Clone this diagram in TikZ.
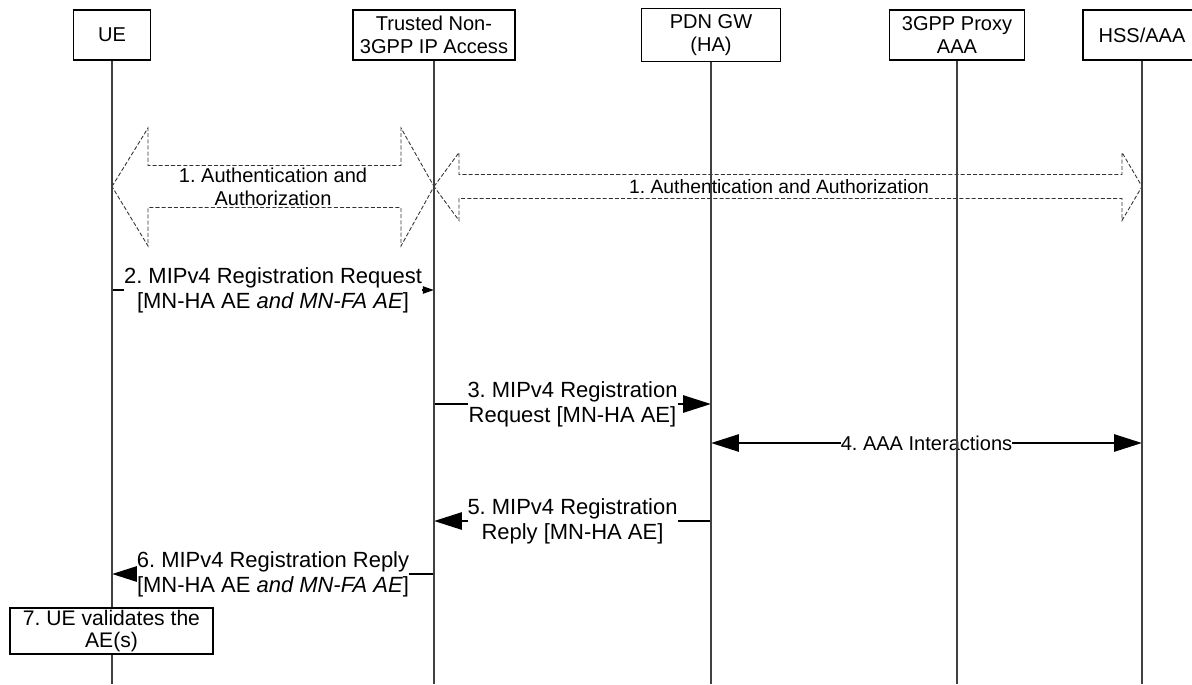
\documentclass[tikz,border=0pt]{standalone}
\usepackage{fontspec}
\setmainfont{Liberation Sans}
\frenchspacing
\usetikzlibrary{arrows.meta}
\begin{document}
\begin{tikzpicture}[
        header/.style={draw,minimum height=1.00cm,align=center,line width=0.6pt,font=\fontsize{11.4}{13.1}\selectfont},
        lifeline/.style={black!75,line width=0.6pt},
        authbox/.style={draw=black!80,line width=0.5pt,dash pattern=on 2.3pt off 1.2pt},
        authlabel/.style={align=center,font=\fontsize{11.4}{13.1}\selectfont},
        msglabel/.style={fill=white,inner sep=0pt,align=center,font=\fontsize{12.5}{14.2}\selectfont},
        msg/.style={line width=1.5pt,-{Triangle[length=15.9pt,width=9.7pt]}},
        msgboth/.style={line width=1.5pt,{Triangle[length=15.9pt,width=9.7pt]}-{Triangle[length=15.9pt,width=9.7pt]}},
        thinmsg/.style={line width=1.1pt,-{Triangle[length=6.3pt,width=4pt]}},
        notebox/.style={draw,fill=white,minimum width=4.06cm,minimum height=0.92cm,inner sep=1pt,align=center,line width=0.6pt,font=\fontsize{12}{12.8}\selectfont}]
        \useasboundingbox (0,0) rectangle (23.84,-13.68);
        \clip (0,0) rectangle (23.84,-13.68);

        \node[header,minimum width=1.54cm] (ue)  at ( 2.24,-0.70) {UE};
        \node[header,minimum width=3.24cm] (tna) at ( 8.68,-0.70) {Trusted Non-\\3GPP IP Access};
        \node[header,minimum width=2.78cm] (pdn) at (14.22,-0.70) {PDN GW\\(HA)};
        \node[header,minimum width=2.70cm] (aaa) at (19.14,-0.70) {3GPP Proxy\\AAA};
        \node[header,minimum width=2.36cm] (hss) at (22.84,-0.70) {HSS/AAA};

        \coordinate (r1)  at (0.00, -3.73);
        \coordinate (r2)  at (0.00, -5.80);
        \coordinate (r3)  at (0.00, -8.08);
        \coordinate (r4)  at (0.00, -8.86);
        \coordinate (r5)  at (0.00,-10.42);
        \coordinate (r6)  at (0.00,-11.48);

        \coordinate (ue-end)  at ( 2.24,-13.68);
        \coordinate (tna-end) at ( 8.68,-13.68);
        \coordinate (pdn-end) at (14.22,-13.68);
        \coordinate (aaa-end) at (19.14,-13.68);
        \coordinate (hss-end) at (22.84,-13.68);

        \draw[authbox] (ue |- r1) -- (2.96,-2.56) -- (2.96,-3.31) -- (8.02,-3.31) -- (8.02,-2.56) -- (tna |- r1)
                -- (8.02,-4.92) -- (8.02,-4.15) -- (2.96,-4.15) -- (2.96,-4.92) -- cycle;
        \draw[authbox] (tna |- r1) -- (9.18,-3.05) -- (9.18,-3.49) -- (22.44,-3.49) -- (22.44,-3.05) -- (hss |- r1)
                -- (22.44,-4.41) -- (22.44,-3.97) -- (9.18,-3.97) -- (9.18,-4.41) -- cycle;
        \node[authlabel] (a1) at ( 5.46,-3.73) {1. Authentication and\\Authorization};
        \node[authlabel,font=\fontsize{11.0}{13.1}\selectfont] (a2) at (15.58,-3.73) {1. Authentication and Authorization};

        \draw[thinmsg] (ue |- r2) to (tna |- r2);
        \node[msglabel] (m2) at ( 5.46,-5.80) {2. MIPv4 Registration Request\\{[MN-HA AE \textit{and MN-FA AE}]}};

        \draw[msg] (tna |- r3) to (pdn |- r3);
        \node[msglabel] (m3) at (11.45,-8.08) {3. MIPv4 Registration\\Request [MN-HA AE]};

        \draw[msgboth] (pdn |- r4) to (hss |- r4);
        \node[msglabel,font=\fontsize{11.4}{13.1}\selectfont] (m4) at (18.53,-8.86) {4. AAA Interactions};

        \draw[msg] (pdn |- r5) to (tna |- r5);
        \node[msglabel] (m5) at (11.45,-10.42) {5. MIPv4 Registration\\Reply [MN-HA AE]};

        \draw[msg] (tna |- r6) to (ue |- r6);
        \node[msglabel] (m6) at ( 5.46,-11.48) {6. MIPv4 Registration Reply\\{[MN-HA AE \textit{and MN-FA AE}]}};

        \draw[lifeline] (ue)  to (ue-end);
        \draw[lifeline] (tna) to (tna-end);
        \draw[lifeline] (pdn) to (pdn-end);
        \draw[lifeline] (aaa) to (aaa-end);
        \draw[lifeline] (hss) to (hss-end);

        \node[notebox] (v7) at ( 2.23,-12.62) {7. UE validates the\\AE(s)};
      \end{tikzpicture}
\end{document}
